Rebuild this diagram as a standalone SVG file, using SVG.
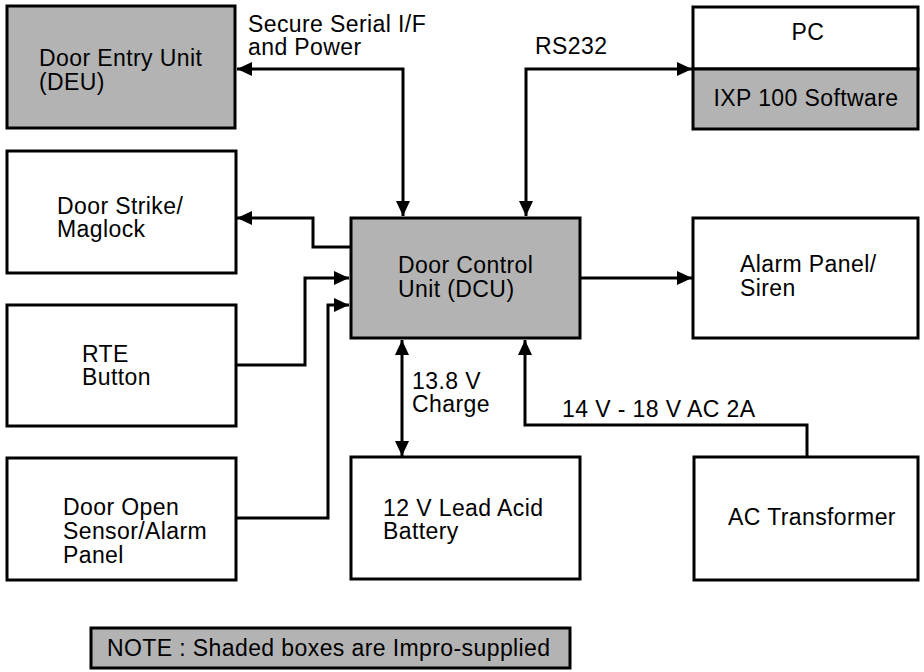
<svg xmlns="http://www.w3.org/2000/svg" width="924" height="672" viewBox="0 0 924 672">
<style>
text{font-family:"Liberation Sans",Arial,sans-serif;font-size:23px;fill:#000;letter-spacing:0.4px}
.box{fill:#fff;stroke:#000;stroke-width:3}
.sh{fill:#b3b3b3;stroke:#000;stroke-width:3}
.con{fill:none;stroke:#000;stroke-width:3}
</style>
<defs>
<marker id="ah" markerUnits="userSpaceOnUse" markerWidth="16" markerHeight="14" refX="15" refY="7" orient="auto-start-reverse">
<path d="M0,0 L15,7 L0,14 z" fill="#000"/>
</marker>
</defs>
<g id="connectors">
<path class="con" d="M237,69 H403 V216" marker-start="url(#ah)" marker-end="url(#ah)"/>
<path class="con" d="M526,216 V69 H692" marker-start="url(#ah)" marker-end="url(#ah)"/>
<path class="con" d="M350,247 H313 V218 H237" marker-end="url(#ah)"/>
<path class="con" d="M237,365 H305 V278 H349" marker-end="url(#ah)"/>
<path class="con" d="M237,518 H328 V305 H349" marker-end="url(#ah)"/>
<path class="con" d="M580,278 H692" marker-end="url(#ah)"/>
<path class="con" d="M402,340 V456" marker-start="url(#ah)" marker-end="url(#ah)"/>
<path class="con" d="M807,456 V425 H525 V340" marker-end="url(#ah)" stroke-width="2.5"/>
<text x="248" y="32">Secure Serial I/F</text>
<text x="248" y="55">and Power</text>
<text x="535" y="54">RS232</text>
<text x="412" y="389">13.8 V</text>
<text x="412" y="412">Charge</text>
<text x="562" y="417">14 V - 18 V AC 2A</text>
</g>
<g id="deu">
<rect class="sh" x="7" y="6" width="228" height="122"/>
<text x="39" y="66">Door Entry Unit</text>
<text x="39" y="90">(DEU)</text>
</g>
<g id="pc">
<rect class="box" x="693" y="7" width="225" height="62"/>
<rect class="sh" x="693" y="69" width="225" height="60"/>
<text x="808" y="40" text-anchor="middle">PC</text>
<text x="806" y="106" text-anchor="middle">IXP 100 Software</text>
</g>
<g id="doorstrike">
<rect class="box" x="7" y="151" width="229" height="122"/>
<text x="57" y="214">Door Strike/</text>
<text x="57" y="237">Maglock</text>
</g>
<g id="dcu">
<rect class="sh" x="351" y="218" width="229" height="120"/>
<text x="398" y="273">Door Control</text>
<text x="398" y="297">Unit (DCU)</text>
</g>
<g id="alarm">
<rect class="box" x="693" y="218" width="225" height="120"/>
<text x="740" y="272">Alarm Panel/</text>
<text x="740" y="296">Siren</text>
</g>
<g id="rte">
<rect class="box" x="7" y="305" width="229" height="121"/>
<text x="82" y="362">RTE</text>
<text x="82" y="385">Button</text>
</g>
<g id="battery">
<rect class="box" x="351" y="457" width="229" height="122"/>
<text x="383" y="516">12 V Lead Acid</text>
<text x="383" y="539">Battery</text>
</g>
<g id="dooropen">
<rect class="box" x="7" y="458" width="229" height="122"/>
<text x="63" y="515">Door Open</text>
<text x="63" y="539">Sensor/Alarm</text>
<text x="63" y="563">Panel</text>
</g>
<g id="actransformer">
<rect class="box" x="694" y="457" width="224" height="123"/>
<text x="728" y="525">AC Transformer</text>
</g>
<g id="note">
<rect class="sh" x="91" y="628" width="479" height="40" stroke-width="2.5"/>
<text x="107" y="656">NOTE : Shaded boxes are Impro-supplied</text>
</g>
</svg>
